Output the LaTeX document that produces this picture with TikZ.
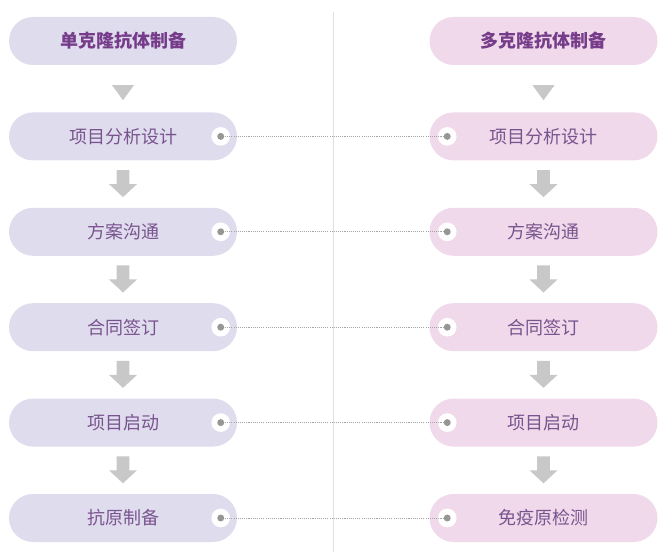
\documentclass[tikz,border=0pt]{standalone}
\usepackage{fontspec}
\setmainfont{Noto Sans CJK SC}
\usetikzlibrary{positioning,calc}

\definecolor{monofill}{RGB}{223,220,238}
\definecolor{polyfill}{RGB}{240,217,234}
\definecolor{headtext}{RGB}{118,60,138}
\definecolor{steptext}{RGB}{122,84,142}
\definecolor{arrowgray}{RGB}{200,200,200}
\definecolor{dotgray}{RGB}{150,150,150}
\definecolor{linkgray}{RGB}{165,165,165}
\definecolor{rulegray}{RGB}{224,224,224}

\tikzset{
	stepbox/.style={rectangle, rounded corners=18pt, minimum width=171pt, minimum height=36pt, inner sep=0pt, text=steptext, font=\fontsize{13.5}{15}\selectfont},
	monobox/.style={stepbox, fill=monofill},
	polybox/.style={stepbox, fill=polyfill},
	headbox/.style={font=\fontsize{13.5}{15}\selectfont\bfseries, text=headtext},
	ring/.style={circle, fill=white, minimum size=14pt, inner sep=0pt},
	link/.style={linkgray, line width=0.6pt, dash pattern=on 0.8pt off 0.8pt},
}

\begin{document}
\begin{tikzpicture}[x=0.75pt, y=-0.75pt]
				\useasboundingbox (0,0) rectangle (667,555);
				
				% geometry
				\def\dy{95.4}   % row pitch
				
				% plain triangle under the titles
				\newcommand{\headarrow}[2]{%
					\begin{scope}[shift={($(#1.south)!0.5!(#2.north)$)}]
						\fill[arrowgray] (-11,-3.5) -- (11,-3.5) -- (0,11.5) -- cycle;
					\end{scope}
				}
				% block arrow between two steps
				\newcommand{\blockarrow}[2]{%
					\begin{scope}[shift={($(#1.south)!0.5!(#2.north)$)}]
						\fill[arrowgray] (-6.3,-14) -- (6.3,-14) -- (6.3,0) -- (14,0) -- (0,13) -- (-14,0) -- (-6.3,0) -- cycle;
					\end{scope}
				}
				
				% centre rule
				\draw[rulegray, line width=0.75pt] (333,12) -- (333,552);
				
				% titles
				\node[monobox, headbox] (m0) at (123,41) {单克隆抗体制备};
				\node[polybox, headbox] (p0) at (543.5,41) {多克隆抗体制备};
				
				% steps
				\foreach \txt [count=\i] in {项目分析设计,方案沟通,合同签订,项目启动,抗原制备}
					\node[monobox] (m\i) at (123,41+\i*\dy) {\txt};
				\foreach \txt [count=\i] in {项目分析设计,方案沟通,合同签订,项目启动,免疫原检测}
					\node[polybox] (p\i) at (543.5,41+\i*\dy) {\txt};
				
				% arrows
				\headarrow{m0}{m1}
				\headarrow{p0}{p1}
				\foreach \i [evaluate=\i as \j using int(\i+1)] in {1,...,4} {
					\blockarrow{m\i}{m\j}
					\blockarrow{p\i}{p\j}
				}
				
				% dotted links across
				\foreach \i in {1,...,5} {
					\node[ring] (ml\i) at ([xshift=-12.4pt]m\i.east) {};
					\node[ring] (pl\i) at ([xshift=13.5pt]p\i.west) {};
					\draw[link] (ml\i.center) -- (pl\i.center);
					\fill[dotgray] (ml\i.center) circle (2.6pt) (pl\i.center) circle (2.6pt);
				}
				
			\end{tikzpicture}
\end{document}
